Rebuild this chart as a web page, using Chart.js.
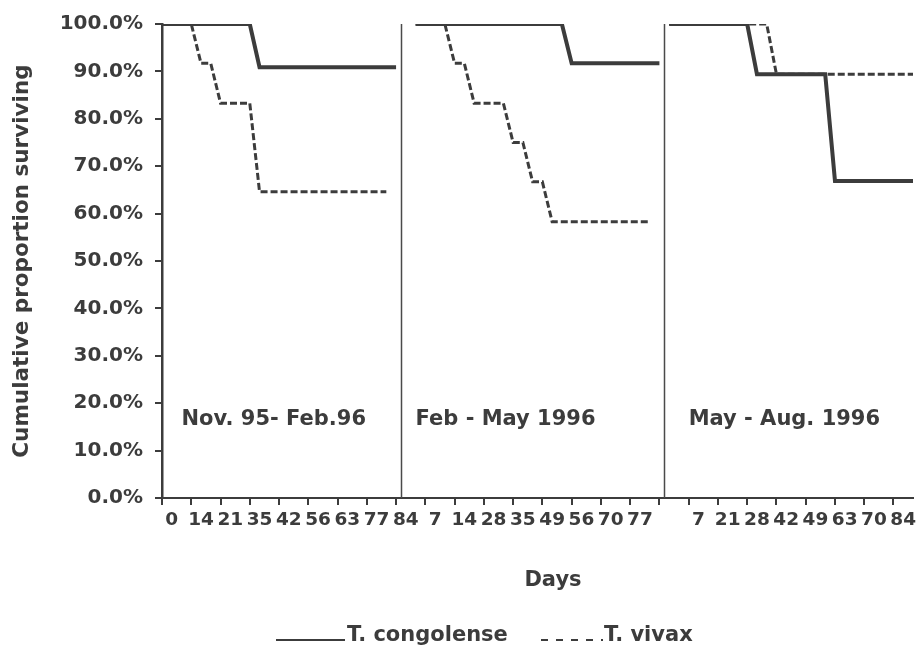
<!DOCTYPE html>
<html>
<head>
<meta charset="utf-8">
<title>Cumulative proportion surviving</title>
<script src="https://cdn.jsdelivr.net/npm/chart.js@4.4.1/dist/chart.umd.min.js"></script>
<style>
  html, body { margin: 0; padding: 0; background: #ffffff; }
  #wrap { width: 917px; height: 660px; }
</style>
</head>
<body>
<div id="wrap"><canvas id="survival" width="917" height="660"></canvas></div>
<script>
// three sampling periods, 26 slots each (every day listed twice for the steps)
const periodNames = ['Nov. 95- Feb.96', 'Feb - May 1996', 'May - Aug. 1996'];
const seriesNames = ['T. congolense', 'T. vivax'];

// day labels along the x axis, one entry per slot
const dayLabels = [
  '', '0', '', '', '14', '', '', '21', '', '', '35', '', '', '42', '', '', '56', '', '', '63', '', '', '77', '', '', '84',
  '', '', '7', '', '', '14', '', '', '28', '', '', '35', '', '', '49', '', '', '56', '', '', '70', '', '', '77', '', '',
  '', '', '', '7', '', '', '21', '', '', '28', '', '', '42', '', '', '49', '', '', '63', '', '', '70', '', '', '84', ''
];

// cumulative proportion surviving (%), per period
const congolenseNov = [100, 100, 100, 100, 100, 100, 100, 100, 100, 100,
  90.9, 90.9, 90.9, 90.9, 90.9, 90.9, 90.9, 90.9, 90.9, 90.9, 90.9, 90.9, 90.9, 90.9, 90.9, null];
const congolenseFeb = [100, 100, 100, 100, 100, 100, 100, 100, 100, 100, 100, 100, 100, 100, 100, 100,
  91.7, 91.7, 91.7, 91.7, 91.7, 91.7, 91.7, 91.7, 91.7, 91.7];
const congolenseMay = [100, 100, 100, 100, 100, 100, 100, 100, 100,
  89.4, 89.4, 89.4, 89.4, 89.4, 89.4, 89.4, 89.4,
  66.9, 66.9, 66.9, 66.9, 66.9, 66.9, 66.9, 66.9, 66.9];

const vivaxNov = [100, 100, 100, 100, 91.7, 91.7, 83.3, 83.3, 83.3, 83.3,
  64.6, 64.6, 64.6, 64.6, 64.6, 64.6, 64.6, 64.6, 64.6, 64.6, 64.6, 64.6, 64.6, 64.6, null, null];
const vivaxFeb = [100, 100, 100, 100, 91.7, 91.7, 83.3, 83.3, 83.3, 83.3, 75, 75, 66.7, 66.7,
  58.3, 58.3, 58.3, 58.3, 58.3, 58.3, 58.3, 58.3, 58.3, 58.3, 58.3, null];
const vivaxMay = [100, 100, 100, 100, 100, 100, 100, 100, 100, 100, 100,
  89.4, 89.4, 89.4, 89.4, 89.4, 89.4, 89.4, 89.4, 89.4, 89.4, 89.4, 89.4, 89.4, 89.4, 89.4];

const congolense = [congolenseNov, congolenseFeb, congolenseMay];
const vivax = [vivaxNov, vivaxFeb, vivaxMay];

const SLOTS = 26;
const ink = '#3c3c3c';
const family = "'DejaVu Sans', sans-serif";

// place one period's values on its own stretch of the shared x axis
function periodPoints(values, period) {
  return values.map((v, k) => ({ x: period * SLOTS + k, y: v }));
}

const datasets = [];
periodNames.forEach((name, p) => {
  datasets.push({
    label: seriesNames[0],
    data: periodPoints(congolense[p], p),
    borderColor: ink,
    borderWidth: 4,
    pointRadius: 0,
    tension: 0
  });
  datasets.push({
    label: seriesNames[1],
    data: periodPoints(vivax[p], p),
    borderColor: ink,
    borderWidth: 3,
    borderDash: [7, 3],
    pointRadius: 0,
    tension: 0
  });
});

// period dividers, period names, axis caption and the legend
const panelDecor = {
  id: 'panelDecor',
  afterDatasetsDraw(chart) {
    const { ctx, chartArea, scales: { x, y } } = chart;
    ctx.save();

    ctx.strokeStyle = '#4a4a4a';
    ctx.lineWidth = 1.5;
    [24.5, 51.5].forEach(slot => {
      const px = Math.round(x.getPixelForValue(slot)) + 0.5;
      ctx.beginPath();
      ctx.moveTo(px, chartArea.top);
      ctx.lineTo(px, chartArea.bottom);
      ctx.stroke();
    });

    ctx.fillStyle = ink;
    ctx.font = 'bold 21px ' + family;
    ctx.textBaseline = 'middle';
    ctx.textAlign = 'left';
    const nameSlots = [2, 26, 54];
    periodNames.forEach((name, p) => {
      ctx.fillText(name, x.getPixelForValue(nameSlots[p]), y.getPixelForValue(16.5));
    });

    ctx.textAlign = 'center';
    ctx.fillText('Days', 553, 581);

    // legend: line samples sit on the text baseline
    ctx.textAlign = 'left';
    ctx.textBaseline = 'alphabetic';
    ctx.lineWidth = 2;
    ctx.strokeStyle = ink;
    ctx.beginPath();
    ctx.moveTo(276, 640);
    ctx.lineTo(345, 640);
    ctx.stroke();
    ctx.fillText(seriesNames[0], 347, 641);

    ctx.setLineDash([7, 8]);
    ctx.beginPath();
    ctx.moveTo(541, 640);
    ctx.lineTo(603, 640);
    ctx.stroke();
    ctx.setLineDash([]);
    ctx.fillText(seriesNames[1], 604, 641);

    ctx.restore();
  }
};

new Chart(document.getElementById('survival'), {
  type: 'line',
  data: { datasets },
  plugins: [panelDecor],
  options: {
    responsive: false,
    animation: false,
    devicePixelRatio: 1,
    layout: { padding: { top: 24, right: 0, bottom: 0, left: 0 } },
    plugins: {
      legend: { display: false },
      tooltip: { enabled: false }
    },
    scales: {
      x: {
        type: 'linear',
        min: 0,
        max: dayLabels.length - 1,
        afterBuildTicks: scale => {
          scale.ticks = dayLabels.map((_, i) => ({ value: i }));
        },
        afterFit: scale => { scale.height = 162; },
        ticks: {
          autoSkip: false,
          maxRotation: 0,
          minRotation: 0,
          padding: 4,
          color: ink,
          font: { family, size: 18.5, weight: 'bold' },
          callback: value => dayLabels[value]
        },
        grid: {
          drawOnChartArea: false,
          drawTicks: true,
          tickLength: 7,
          lineWidth: 2,
          color: c => (c.tick && c.tick.value % 3 === 0) ? ink : 'rgba(0,0,0,0)'
        },
        border: { color: ink, width: 2 }
      },
      y: {
        min: 0,
        max: 100,
        afterFit: scale => { scale.width = 162; },
        ticks: {
          stepSize: 10,
          padding: 12,
          color: ink,
          font: { family, size: 20, weight: 'bold' },
          callback: value => value.toFixed(1) + '%'
        },
        grid: {
          drawOnChartArea: false,
          drawTicks: true,
          tickLength: 7,
          lineWidth: 2,
          color: ink
        },
        border: { color: ink, width: 2.5 },
        title: {
          display: true,
          text: 'Cumulative proportion surviving',
          color: ink,
          font: { family, size: 21.5, weight: 'bold' },
          padding: { top: 10, bottom: 0 }
        }
      }
    }
  }
});
</script>
</body>
</html>
